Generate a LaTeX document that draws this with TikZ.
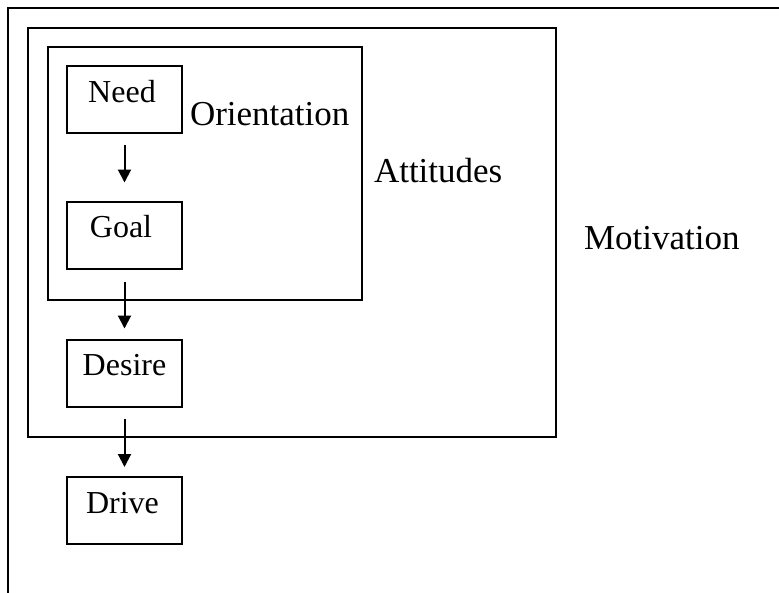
\documentclass[tikz,border=0pt]{standalone}
\usepackage{fontspec}
\setmainfont{Liberation Serif}
\usetikzlibrary{%
  arrows,%
  arrows.meta,%
  positioning% wg. " of "
}

\begin{document}
\begin{tikzpicture}
[x=1pt, y=-1pt, draw=black, line width=2pt, >={Triangle[length=13pt,width=13pt]},
step0/.style={rectangle, draw, inner sep=0pt, minimum width=115pt, text height=36pt, text depth=31pt, font=\fontsize{32}{32}\selectfont},
frame/.style={rectangle, draw, inner sep=0pt},
caption/.style={anchor=base west, inner sep=0pt, font=\fontsize{35}{35}\selectfont}]

\useasboundingbox (0,0) rectangle (779,592);

% outer frame runs off the page
\begin{scope}
\clip (0,0) rectangle (779,592);
\node[frame, minimum width=800pt, minimum height=620pt] (motiv) at (408,318) {};
\end{scope}
\node[frame, minimum width=528pt, minimum height=409pt] (attit) at (292,232.5) {};
\node[frame, minimum width=314pt, minimum height=253pt] (orient) at (205,173.5) {};

\node[step0] (need) at (124.5,99.5) {\hspace*{-5pt}Need};
\node[step0] (goal) at (124.5,235) {\hspace*{-7pt}Goal};
\node[step0] (desire) at (124.5,373) {\hspace*{-0pt}Desire};
\node[step0] (drive) at (124.5,510.5) {\hspace*{-4pt}Drive};

\node[caption] (l1) at (189,125) {Orientation};
\node[caption] (l2) at (373,182) {Attitudes};
\node[caption] (l3) at (583,249) {Motivation};

\draw[->, shorten <=11pt, shorten >=18pt] (need) -- (goal);
\draw[->, shorten <=12pt, shorten >=10pt] (goal) -- (desire);
\draw[->, shorten <=11pt, shorten >=9pt] (desire) -- (drive);

\end{tikzpicture}
\end{document}
